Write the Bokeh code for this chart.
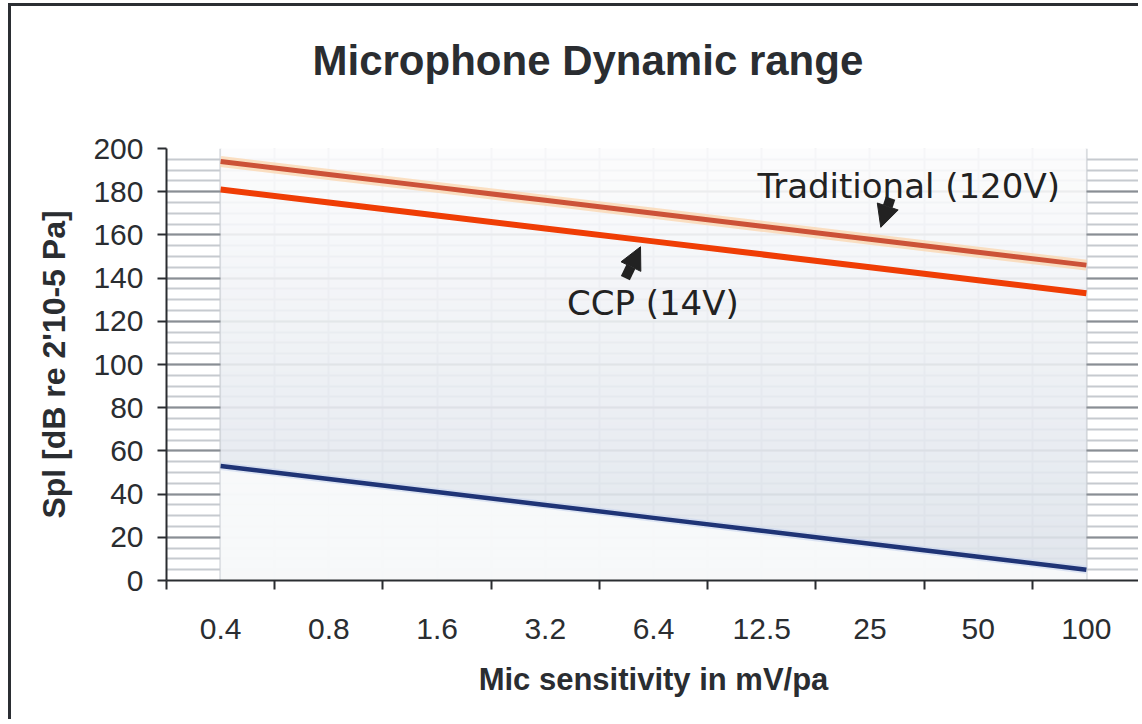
import numpy as np
from bokeh.plotting import figure
from bokeh.models import FixedTicker, Range1d, Label, Arrow, NormalHead
from bokeh.embed import file_html
from bokeh.resources import INLINE

# ---------------- data ----------------
categories = ["0.4", "0.8", "1.6", "3.2", "6.4", "12.5", "25", "50", "100"]
traditional = [194, 188, 182, 176, 170, 164, 158, 152, 146]   # Traditional (120V)
ccp = [181, 175, 169, 163, 157, 151, 145, 139, 133]           # CCP (14V)
noise_floor = [53, 47, 41, 35, 29, 23, 17, 11, 5]
y_ticks = [0, 20, 40, 60, 80, 100, 120, 140, 160, 180, 200]
title_text = "Microphone Dynamic range"

n = len(categories)
xs = [i + 0.5 for i in range(n)]

FONT = "Liberation Sans"
DARK = "#2a2d31"

p = figure(width=1130, height=716, output_backend="svg", toolbar_location=None,
           x_range=Range1d(0, n), y_range=Range1d(0, 200),
           min_border_left=155, min_border_right=1,
           min_border_top=142, min_border_bottom=142)
p.styles = {"border-left": "3px solid #2b2e33", "border-top": "3px solid #2b2e33",
            "margin-left": "8px", "margin-top": "3px"}
p.outline_line_color = None
p.background_fill_color = "white"
p.border_fill_color = "white"

# title (an empty second line keeps it high above the plot area)
p.title.text = title_text + "\n"
p.title.text_font = FONT
p.title.text_font_size = "42px"
p.title.text_font_style = "bold"
p.title.text_color = DARK
p.title.align = "left"
p.title.offset = 146
p.title.vertical_align = "top"
p.title.standoff = 32

# grids
p.xgrid.ticker = FixedTicker(ticks=[i * 0.5 for i in range(2 * n + 1)])
p.xgrid.grid_line_color = "#c9cdd2"
p.xgrid.grid_line_width = 2
p.ygrid.ticker = FixedTicker(ticks=y_ticks, minor_ticks=list(range(0, 201, 5)))
p.ygrid.grid_line_color = "#898e94"
p.ygrid.grid_line_width = 2
p.ygrid.minor_grid_line_color = "#c6cacf"
p.ygrid.minor_grid_line_width = 2

# axes
p.xaxis.ticker = FixedTicker(ticks=xs, minor_ticks=list(range(n + 1)))
p.xaxis.major_label_overrides = {x: c for x, c in zip(xs, categories)}
p.xaxis.major_tick_out = 0
p.xaxis.major_tick_in = 0
p.xaxis.minor_tick_out = 9
p.xaxis.minor_tick_in = 0
p.xaxis.minor_tick_line_color = DARK
p.xaxis.minor_tick_line_width = 2
p.xaxis.major_label_standoff = 29
p.xaxis.axis_label = "Mic sensitivity in mV/pa"
p.xaxis.axis_label_standoff = 20
p.xaxis.axis_label_text_font_size = "31px"

p.yaxis.ticker = FixedTicker(ticks=y_ticks)
p.yaxis.major_tick_out = 9
p.yaxis.major_tick_in = 0
p.yaxis.major_tick_line_color = DARK
p.yaxis.major_tick_line_width = 2
p.yaxis.minor_tick_line_color = None
p.yaxis.major_label_standoff = 14
p.yaxis.axis_label = "Spl [dB re 2'10-5 Pa]"
p.yaxis.axis_label_standoff = 18
p.yaxis.axis_label_text_font_size = "32px"

for ax in (p.xaxis[0], p.yaxis[0]):
    ax.axis_line_color = DARK
    ax.axis_line_width = 2
    ax.major_label_text_font = FONT
    ax.major_label_text_font_size = "30px"
    ax.major_label_text_color = DARK
    ax.axis_label_text_font = FONT
    ax.axis_label_text_font_style = "bold"
    ax.axis_label_text_color = DARK

# gradient background of the range area (vertical gradient image)
H = 432
bottom_col = np.array([0xdc, 0xe2, 0xea], dtype=float)
top_col = np.array([0xfc, 0xfc, 0xfd], dtype=float)
t = np.linspace(0, 1, H)[:, None]
cols = bottom_col[None, :] + (top_col - bottom_col)[None, :] * t
img = np.zeros((H, 1), dtype=np.uint32)
view = img.view(dtype=np.uint8).reshape((H, 1, 4))
view[:, 0, 0] = cols[:, 0].round().astype(np.uint8)
view[:, 0, 1] = cols[:, 1].round().astype(np.uint8)
view[:, 0, 2] = cols[:, 2].round().astype(np.uint8)
view[:, 0, 3] = 225
p.image_rgba(image=[img], x=xs[0], y=0, dw=xs[-1] - xs[0], dh=200)

# lighter area below the noise floor
p.varea(x=xs, y1=[0] * n, y2=noise_floor, fill_color="#fafbfc", fill_alpha=0.85)

# lines
p.line(xs, noise_floor, line_color="#c9d6ee", line_width=8, line_alpha=0.6)
p.line(xs, noise_floor, line_color="#1f3476", line_width=4.5)
p.line(xs, traditional, line_color="#fbd3a8", line_width=11, line_alpha=0.7)
p.line(xs, traditional, line_color="#cc5238", line_width=5)
p.line(xs, ccp, line_color="#ef3d05", line_width=6)

# annotations
ANN_FONT = "DejaVu Sans"
p.add_layout(Label(x=5.46, y=182.5, text="Traditional (120V)", text_font=ANN_FONT,
                   text_font_size="34px", text_color="#222222", text_baseline="alphabetic"))
p.add_layout(Label(x=3.70, y=128.5, text="CCP (14V)", text_font=ANN_FONT,
                   text_font_size="34px", text_color="#222222", text_baseline="alphabetic"))
p.add_layout(Arrow(x_start=6.69, y_start=177, x_end=6.60, y_end=163.5,
                   line_color="#222222", line_width=10,
                   end=NormalHead(size=22, fill_color="#222222", line_color="#222222")))
p.add_layout(Arrow(x_start=4.24, y_start=140, x_end=4.38, y_end=154.5,
                   line_color="#222222", line_width=10,
                   end=NormalHead(size=22, fill_color="#222222", line_color="#222222")))

open("out.html", "w").write(file_html(p, INLINE))
